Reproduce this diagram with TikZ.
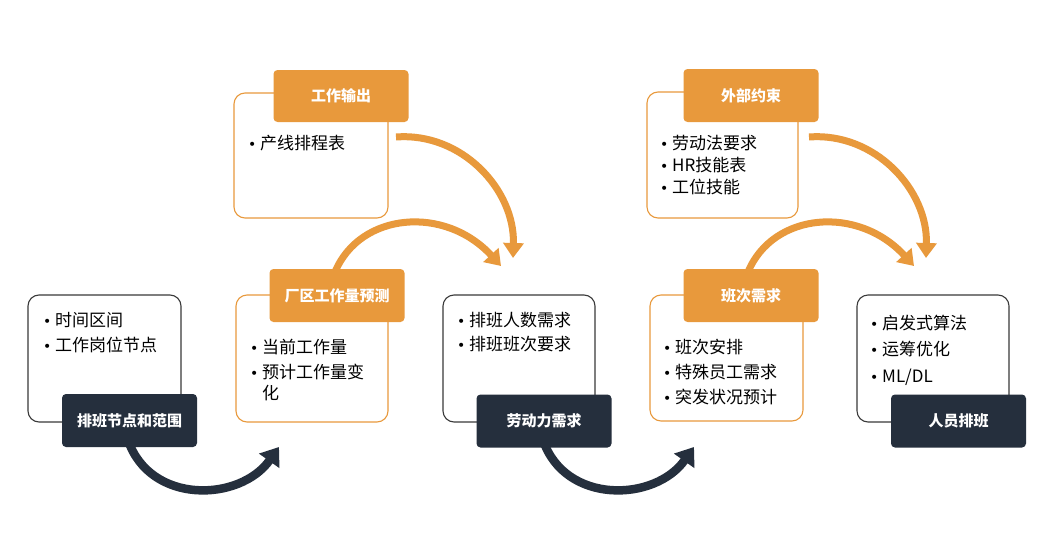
\documentclass[tikz,border=0pt]{standalone}
\usepackage{fontspec}
\setmainfont{Noto Sans CJK SC}
\newfontfamily\blfont{DejaVu Sans}
\usetikzlibrary{arrows.meta}
\definecolor{orng}{HTML}{E8993C}
\definecolor{navy}{HTML}{252F3D}
\definecolor{edgec}{HTML}{3A3A3A}
\newcommand{\bl}[1]{\makebox[12pt][l]{\blfont\fontsize{14}{16}\selectfont •}#1}
\tikzset{
  wbox/.style={draw=edgec, line width=1.1pt, fill=white, rounded corners=11pt,
    minimum width=152pt, minimum height=127pt, inner sep=0pt},
  obox/.style={wbox, draw=orng},
  nlab/.style={fill=navy, rounded corners=4pt, minimum width=135pt, minimum height=53pt,
    inner sep=0pt, text=white, font=\fontsize{15}{17}\selectfont\bfseries},
  olab/.style={nlab, fill=orng},
  item/.style={anchor=west, inner sep=0pt, font=\fontsize{17}{20}\selectfont, text=black},
  darr/.style={draw=navy, line width=8.5pt, -{Triangle[width=24pt,length=17pt]}},
  oarr/.style={draw=orng, line width=7pt, -{Triangle[width=20pt,length=15pt]}}
}
\begin{document}
\begin{tikzpicture}[x=1pt,y=-1pt]
\useasboundingbox (0,0) rectangle (1046,535);
\fill[white] (0,0) rectangle (1046,535);

% arrows
\coordinate (d1s) at (128,440); \coordinate (d1e) at (279,447);
\coordinate (d2s) at (543,440); \coordinate (d2e) at (694,447);
\coordinate (oAs) at (396,137); \coordinate (oAe) at (513,258);
\coordinate (oBs) at (335,272); \coordinate (oBe) at (501,266);
\coordinate (oCs) at (809,137); \coordinate (oCe) at (926,258);
\coordinate (oDs) at (748,272); \coordinate (oDe) at (914,266);
\draw[darr] (d1s) .. controls (150,505) and (240,502) .. (d1e);
\draw[darr] (d2s) .. controls (565,505) and (655,502) .. (d2e);
\draw[oarr] (oAs) .. controls (462,132) and (515,190) .. (oAe);
\draw[oarr] (oBs) .. controls (360,212) and (445,205) .. (oBe);
\draw[oarr] (oCs) .. controls (875,132) and (928,190) .. (oCe);
\draw[oarr] (oDs) .. controls (773,212) and (858,205) .. (oDe);

% boxes
\node[wbox, minimum width=153pt] (b1) at (104.5,358.5) {};
\node[obox] (b2) at (312,358.5) {};
\node[obox, minimum width=154pt, minimum height=125pt] (b3) at (311,155.5) {};
\node[wbox] (b4) at (519,358.5) {};
\node[obox, minimum width=153pt, minimum height=126pt] (b5) at (726.5,358) {};
\node[obox, minimum width=151pt, minimum height=126pt] (b6) at (722.5,155) {};
\node[wbox] (b7) at (933,358.5) {};

% labels
\node[nlab] (l1) at (129.5,420.5) {排班节点和范围};
\node[olab] (l2) at (337,295.5) {厂区工作量预测};
\node[olab, minimum height=52pt] (l3) at (341,96) {工作输出};
\node[nlab] (l4) at (544,421) {劳动力需求};
\node[olab] (l5) at (751,295.5) {班次需求};
\node[olab] (l6) at (751,95.5) {外部约束};
\node[nlab] (l7) at (958.5,421) {人员排班};

% items
\node[item] (t11) at (43,320) {\bl{时间区间}};
\node[item] (t12) at (43,345) {\bl{工作岗位节点}};
\node[item] (t21) at (250,347) {\bl{当前工作量}};
\node[item] (t22) at (250,372) {\bl{预计工作量变}};
\node[item] (t23) at (262,393) {化};
\node[item] (t31) at (248,143) {\bl{产线排程表}};
\node[item] (t41) at (457,320) {\bl{排班人数需求}};
\node[item] (t42) at (457,344) {\bl{排班班次要求}};
\node[item] (t51) at (663,347) {\bl{班次安排}};
\node[item] (t52) at (663,372) {\bl{特殊员工需求}};
\node[item] (t53) at (663,397) {\bl{突发状况预计}};
\node[item] (t61) at (660,143) {\bl{劳动法要求}};
\node[item] (t62) at (660,165) {\bl{HR技能表}};
\node[item] (t63) at (660,187) {\bl{工位技能}};
\node[item] (t71) at (870,323) {\bl{启发式算法}};
\node[item] (t72) at (870,349) {\bl{运筹优化}};
\node[item] (t73) at (870,377) {\bl{ML/DL}};
\end{tikzpicture}
\end{document}
